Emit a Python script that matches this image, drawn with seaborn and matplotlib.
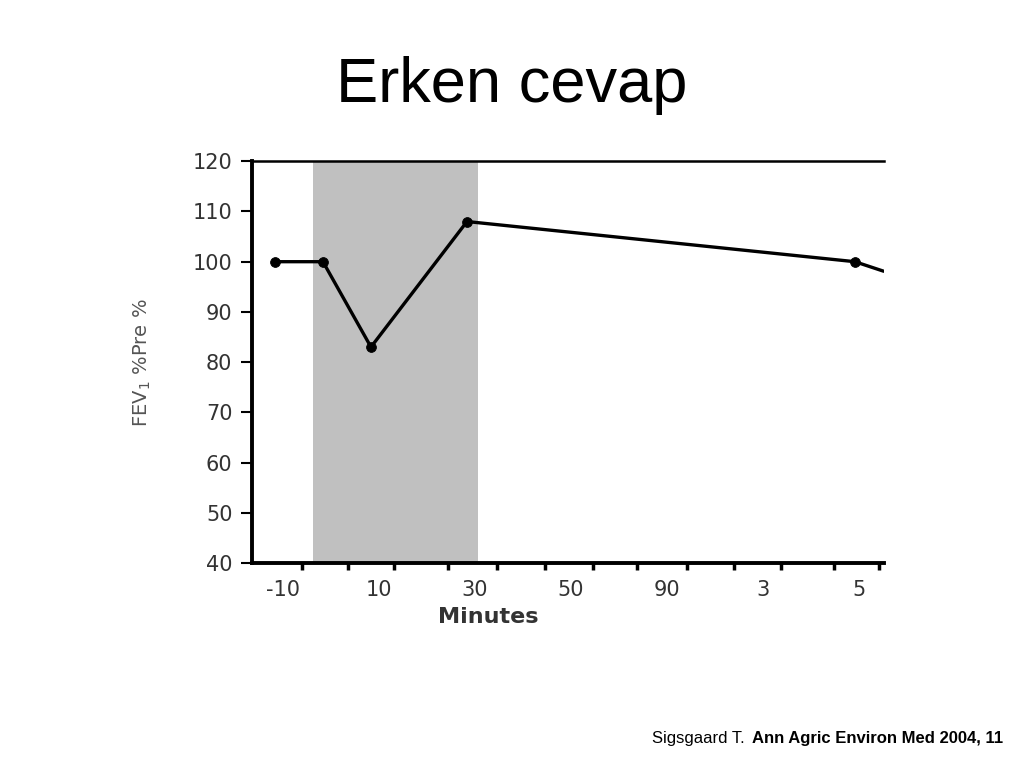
import matplotlib
matplotlib.use('Agg')
import matplotlib.pyplot as plt
import seaborn as sns
import pandas as pd

# time axis labels (minutes, then hours), drawn at index positions 0..6
tick_labels = ["-10", "10", "30", "50", "90", "3", "5"]
tick_pos = [0, 1, 2, 3, 4, 5, 6]
minor_ticks = [0.2, 0.68, 1.16, 1.72, 2.23, 2.73, 3.23, 3.69, 4.21, 4.70, 5.19, 5.74, 6.21]

# FEV1 course (% of pre-exposure)
x_points = [-0.08, 0.42, 0.92, 1.92, 5.96, 6.26]
fev1_pct = [100, 100, 83, 108, 100, 98.1]
has_marker = [True, True, True, True, True, False]

# exposure period (grey band)
exposure_start = 0.32
exposure_end = 2.03

df = pd.DataFrame({'x': x_points, 'fev1': fev1_pct, 'marker': has_marker})

sns.set_theme(style="white")
plt.rcParams['font.family'] = ['Liberation Sans', 'DejaVu Sans']

fig = plt.figure(figsize=(10.24, 7.68), dpi=100)
ax = fig.add_axes([0.246, 0.267, 0.617, 0.523])

ax.axvspan(exposure_start, exposure_end, color='#c0c0c0', lw=0, zorder=0)
sns.lineplot(data=df, x='x', y='fev1', color='black', lw=2.4, ax=ax,
             sort=False, zorder=3)
sns.scatterplot(data=df[df['marker']], x='x', y='fev1', color='black',
                s=50, edgecolor='black', ax=ax, zorder=4)

ax.set_xlim(-0.32, 6.26)
ax.set_ylim(40, 120)
ax.set_yticks(range(40, 121, 10))

ax.set_xticks(tick_pos)
ax.set_xticklabels(tick_labels)
ax.set_xticks(minor_ticks, minor=True)

for lab in ax.get_xticklabels() + ax.get_yticklabels():
    lab.set_fontfamily('DejaVu Sans')
    lab.set_fontsize(15)
    lab.set_color('#333333')

ax.tick_params(axis='x', which='major', length=0, pad=12)
ax.tick_params(axis='x', which='minor', length=5, width=2.5, color='black',
               direction='out', bottom=True)
ax.tick_params(axis='y', length=8, width=1.5, color='black', direction='out',
               left=True, pad=6)

for side in ['left', 'bottom']:
    ax.spines[side].set_linewidth(2.8)
    ax.spines[side].set_color('black')
ax.spines['top'].set_linewidth(1.8)
ax.spines['top'].set_color('black')
ax.spines['right'].set_visible(False)

ax.set_xlabel('')
ax.set_ylabel('')
fig.text(488 / 1024, 1 - 617 / 768, 'Minutes', ha='center', va='center',
         fontsize=16, fontweight='bold', family='DejaVu Sans',
         color='#333333')
fig.text(142 / 1024, 1 - 363 / 768, 'FEV$_1$ %Pre %', rotation=90,
         ha='center', va='center', fontsize=14, family='DejaVu Sans',
         color='#555555')

fig.text(0.5, 1 - 102 / 768, 'Erken cevap', ha='center', va='baseline',
         fontsize=45.5, color='black')

fig.text(652 / 1024, 1 - 743 / 768, 'Sigsgaard T.', ha='left', va='baseline',
         fontsize=12, color='black')
fig.text(752 / 1024, 1 - 743 / 768, 'Ann Agric Environ Med 2004, 11',
         ha='left', va='baseline', fontsize=12, fontweight='bold',
         color='black')

fig.savefig('out.png', dpi=100)
